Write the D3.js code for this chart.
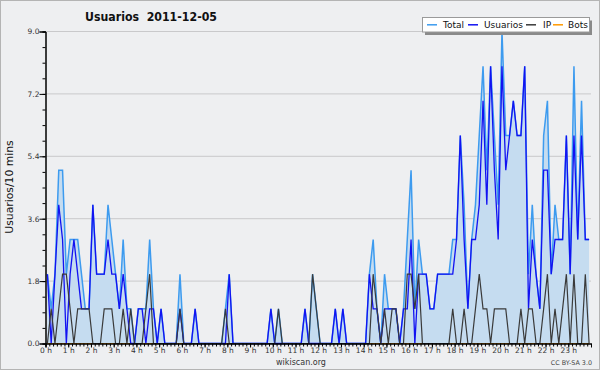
<!DOCTYPE html>
<html><head><meta charset="utf-8">
<script src="https://cdn.jsdelivr.net/npm/d3@7"></script>
<style>
html,body{margin:0;padding:0;background:#eeeff1;}
svg{display:block;}
text{font-family:"DejaVu Sans",Verdana,sans-serif;}
</style></head>
<body>
<svg id="c" width="600" height="370"></svg>
<script>
const title = "Usuarios  2011-12-05";
const yLabel = "Usuarios/10 mins";
const hourLabels = ["0 h","1 h","2 h","3 h","4 h","5 h","6 h","7 h","8 h","9 h","10 h","11 h","12 h","13 h","14 h","15 h","16 h","17 h","18 h","19 h","20 h","21 h","22 h","23 h"];
const yTicks = [0, 1.8, 3.6, 5.4, 7.2, 9.0];
const seriesNames = ["Total","Usuarios","IP","Bots"];

// one value per 10-minute slot (144 slots)
const total = [
2,1,2,5,5,2,3,3,3,2, 1,1,4,2,2,2,4,3,2,1, 3,1,1,0,1,1,1,3,1,0,
1,0,0,0,0,2,0,0,0,1, 0,0,0,0,0,0,0,1,2,0, 0,0,0,0,0,0,0,0,0,1,
0,1,0,0,0,0,0,0,1,0, 2,1,0,0,0,0,1,0,1,0, 0,0,0,0,0,2,3,1,0,2,
1,1,1,0,1,3,5,1,3,2, 2,1,1,2,2,2,2,3,3,6, 4,1,3,4,6,8,5,8,6,4,
9,6,6,7,6,6,8,2,4,2, 1,6,7,2,4,3,3,6,2,8, 3,7,3,3];
const usuarios = [
2,0,2,4,3,0,2,3,2,1, 1,1,4,2,2,2,3,2,2,1, 2,1,0,0,1,1,0,1,1,0,
1,0,0,0,0,1,0,0,0,1, 0,0,0,0,0,0,0,0,2,0, 0,0,0,0,0,0,0,0,0,1,
0,0,0,0,0,0,0,0,1,0, 0,0,0,0,0,0,1,0,1,0, 0,0,0,0,0,2,1,1,0,1,
1,1,1,0,1,1,3,0,2,2, 2,1,1,2,2,2,2,2,3,6, 3,1,3,3,4,7,4,8,5,3,
8,5,6,7,6,6,8,1,3,2, 1,5,5,2,3,3,3,6,2,6, 3,6,3,3];
const ip = [
0,1,0,1,2,2,1,0,1,1, 1,1,0,0,0,1,1,1,0,0, 1,0,1,0,0,0,1,2,0,0,
0,0,0,0,0,1,0,0,0,0, 0,0,0,0,0,0,0,1,0,0, 0,0,0,0,0,0,0,0,0,0,
0,1,0,0,0,0,0,0,0,0, 2,1,0,0,0,0,0,0,0,0, 0,0,0,0,0,0,2,1,0,1,
0,1,1,0,0,2,2,1,2,0, 0,0,0,0,0,0,0,1,0,0, 1,0,0,1,2,1,1,0,1,1,
1,1,0,0,0,1,0,1,1,0, 0,1,2,0,1,0,1,2,0,2, 0,0,2,0];
const bots = [
0,0,0,0,0,0,0,0,0,0, 0,0,0,0,0,0,0,0,0,0, 0,0,0,0,0,0,0,0,0,0,
0,0,0,0,0,0,0,0,0,0, 0,0,0,0,0,0,0,0,0,0, 0,0,0,0,0,0,0,0,0,0,
0,0,0,0,0,0,0,0,0,0, 0,0,0,0,0,0,0,0,0,0, 0,0,0,0,0,0,0,0,0,0,
0,0,0,0,0,0,0,0,0,0, 0,0,0,0,0,0,0,0,0,0, 0,0,0,0,0,0,0,0,0,0,
0,0,0,0,0,0,0,0,0,0, 0,0,0,0,0,0,0,0,0,0, 0,0,0,0];

const colors = {Total:"#3d9bef", Usuarios:"#1212f2", IP:"#3a3a3a", Bots:"#ff9900"};

const svg = d3.select("#c");
const W = 600, H = 370;
svg.append("rect").attr("x",0.5).attr("y",0.5).attr("width",W-1).attr("height",H-1)
  .attr("fill","#eeeff1").attr("stroke","#b4b4b4");

const x = d3.scaleLinear().domain([0, 1440]).range([45.5, 591]);
const y = d3.scaleLinear().domain([0, 9]).range([343.5, 31.5]);
const slotX = i => x(i*10 + 5);

// grid
svg.append("g").selectAll("line").data(yTicks.slice(1)).join("line")
  .attr("x1", x(0)).attr("x2", x(1440))
  .attr("y1", d=>y(d)).attr("y2", d=>y(d))
  .attr("stroke","#c9c9cb").attr("stroke-width",1);

// area under total
const area = d3.area().x((d,i)=>slotX(i)).y0(y(0)).y1(d=>y(d));
svg.append("path").datum(total).attr("d", area).attr("fill","#c5dcf0");

const line = d3.line().x((d,i)=>slotX(i)).y(d=>y(d));
const drawLine = (data, color, w) => svg.append("path").datum(data).attr("d", line)
  .attr("fill","none").attr("stroke", color).attr("stroke-width", w).attr("stroke-linejoin","miter");
drawLine(bots, colors.Bots, 1.2);
drawLine(total, colors.Total, 1.5);
drawLine(usuarios, colors.Usuarios, 1.3);
drawLine(ip, colors.IP, 1.2);

// y axis
const yMinor = d3.range(0, 41).map(k => k*0.225).filter((v,k)=>k%2===0);
const gyMinor = svg.append("g").attr("transform",`translate(${x(0)},0)`)
  .call(d3.axisLeft(y).tickValues(yMinor).tickSize(3).tickFormat(""));
const gy = svg.append("g").attr("transform",`translate(${x(0)},0)`)
  .call(d3.axisLeft(y).tickValues(yTicks).tickSize(6).tickPadding(0).tickFormat(d3.format(".1f")));
[gy, gyMinor].forEach(g => { g.select(".domain").attr("stroke","#000");
  g.selectAll(".tick line").attr("stroke","#000"); });
gy.selectAll("text").attr("font-size",7.5).attr("fill","#333").attr("font-family","DejaVu Sans");

// x axis
const xMinor = d3.range(0, 1441, 10);
const gxMinor = svg.append("g").attr("transform",`translate(0,${y(0)})`)
  .call(d3.axisBottom(x).tickValues(xMinor).tickSize(3).tickFormat(""));
const gx = svg.append("g").attr("transform",`translate(0,${y(0)})`)
  .call(d3.axisBottom(x).tickValues(hourLabels.map((d,i)=>i*60)).tickSize(4).tickPadding(0)
    .tickFormat((d,i)=>hourLabels[i]));
[gx, gxMinor].forEach(g => { g.select(".domain").attr("stroke","#000");
  g.selectAll(".tick line").attr("stroke","#000"); });
gx.selectAll("text").attr("font-size",7.5).attr("fill","#333").attr("font-family","DejaVu Sans");

// title
svg.append("text").attr("x",85).attr("y",20.5).attr("font-size",11.5).attr("font-weight","bold")
  .attr("fill","#111").attr("textLength",132).attr("lengthAdjust","spacingAndGlyphs")
  .style("white-space","pre").text(title);

// y label
svg.append("text").attr("transform","translate(13,187) rotate(-90)").attr("text-anchor","middle")
  .attr("font-family","DejaVu Sans Mono").attr("font-size",10.8).attr("fill","#111").text(yLabel);

// footer
svg.append("text").attr("x",301).attr("y",365).attr("text-anchor","middle").attr("font-size",8)
  .attr("fill","#333").text("wikiscan.org");
svg.append("text").attr("x",592).attr("y",364.5).attr("text-anchor","end").attr("font-size",6.4)
  .attr("fill","#444").text("CC BY-SA 3.0");

// legend
const lg = svg.append("g");
lg.append("rect").attr("x",425).attr("y",20.5).attr("width",167).attr("height",14.5).attr("fill","#8a8a8a");
lg.append("rect").attr("x",422.5).attr("y",17.5).attr("width",167).attr("height",14.5)
  .attr("fill","#ffffff").attr("stroke","#9a9a9a").attr("stroke-width",1);
const legendX = [[427,443],[468,484],[526,543],[553,568]];
seriesNames.forEach((n,k)=>{
  lg.append("line").attr("x1",legendX[k][0]).attr("x2",legendX[k][0]+10).attr("y1",24.8).attr("y2",24.8)
    .attr("stroke",colors[n]).attr("stroke-width",1.5);
  lg.append("text").attr("x",legendX[k][1]).attr("y",28.2).attr("font-size",9).attr("fill","#111").text(n);
});
</script>
</body></html>
